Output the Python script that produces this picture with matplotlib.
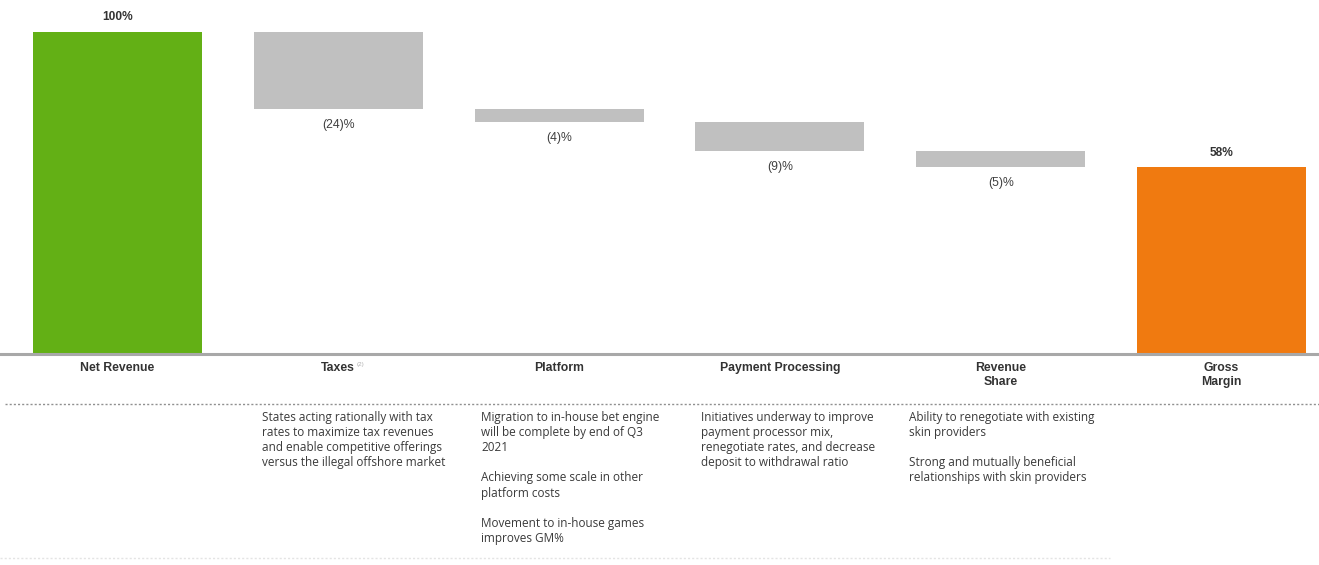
import matplotlib.pyplot as plt
from matplotlib.transforms import blended_transform_factory

# waterfall data (% of net revenue)
categories = ['Net Revenue', 'Taxes', 'Platform', 'Payment Processing', 'Revenue\nShare', 'Gross\nMargin']
net_revenue = 100
deductions = [24, 4, 9, 5]
gross_margin = 58

notes = [
    ['States acting rationally with tax', 'rates to maximize tax revenues',
     'and enable competitive offerings', 'versus the illegal offshore market'],
    ['Migration to in-house bet engine', 'will be complete by end of Q3', '2021', '',
     'Achieving some scale in other', 'platform costs', '',
     'Movement to in-house games', 'improves GM%'],
    ['Initiatives underway to improve', 'payment processor mix,',
     'renegotiate rates, and decrease', 'deposit to withdrawal ratio'],
    ['Ability to renegotiate with existing', 'skin providers', '',
     'Strong and mutually beneficial', 'relationships with skin providers'],
]
note_x = [262, 481, 701, 909]

green = '#63b015'
orange = '#f07a10'
grey = '#c0c0c0'

W, H = 1319, 565
fig = plt.figure(figsize=(W / 100, H / 100), dpi=100)

# pixel-coordinate page for the notes and rules
page = fig.add_axes([0, 0, 1, 1])
page.set_xlim(0, W)
page.set_ylim(H, 0)
page.axis('off')

base_px = 354
ax = fig.add_axes([0, 1 - base_px / H, 1, base_px / H])
step = 220.8
ax.set_xlim(-117.5 / step, (W - 117.5) / step)
ax.set_ylim(0, 100 * base_px / 322)
ax.axis('off')

width = 0.765
x = list(range(len(categories)))

ax.bar(x[0], net_revenue, width=width, color=green)
level = net_revenue
for i, d in enumerate(deductions):
    ax.bar(x[i + 1], d, bottom=level - d, width=width, color=grey)
    ax.text(x[i + 1], level - d - 5.0, f'({d})%', ha='center', va='center',
            fontsize=8.8, color='#404040', family='Liberation Sans')
    level -= d
ax.bar(x[-1], gross_margin, width=width, color=orange)

ax.text(x[0], net_revenue + 4.8, f'{net_revenue}%', ha='center', va='center',
        fontsize=8.6, fontweight='bold', color='#333333', family='Liberation Sans')
ax.text(x[-1], gross_margin + 4.3, f'{gross_margin}%', ha='center', va='center',
        fontsize=8.6, fontweight='bold', color='#333333', family='Liberation Sans')

# baseline
ax.axhline(0, color='#a8a8a8', lw=2.2, clip_on=False)

# category labels under the baseline
tr = blended_transform_factory(ax.transData, fig.transFigure)
for xi, name in zip(x, categories):
    fig.text(xi, 1 - 362 / H, name, transform=tr, ha='center', va='top',
             fontsize=8.8, fontweight='bold', color='#333333',
             family='Liberation Sans', linespacing=1.2)
fig.text(x[1] + 0.085, 1 - 362 / H, '(2)', transform=tr, ha='left', va='top',
         fontsize=4.5, color='#b0b0b0', family='Liberation Sans')

# dotted separators
page.plot([5, W], [404, 404], ls=(0, (1.5, 1.5)), color='#909090', lw=1)
page.plot([0, 1110], [558, 558], ls=(0, (1.5, 1.5)), color='#e4e4e4', lw=1)

# commentary under each deduction
for nx, lines in zip(note_x, notes):
    for j, line in enumerate(lines):
        if line:
            page.text(nx, 417 + j * 15.2, line, ha='left', va='center',
                      fontsize=8.5, color='#3a3a3a', family='Open Sans')

fig.savefig('out.png', dpi=100)
